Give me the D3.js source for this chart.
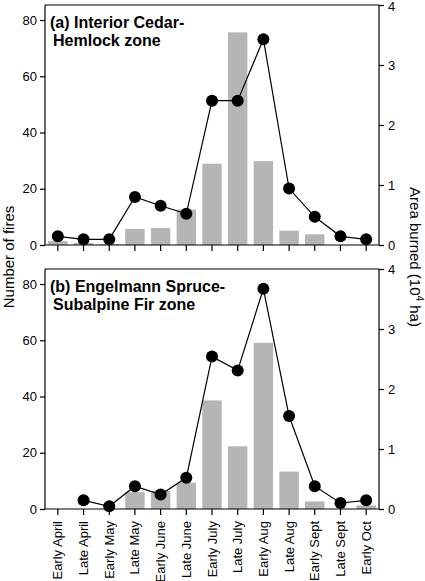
<!DOCTYPE html>
<html><head><meta charset="utf-8">
<script src="https://cdn.jsdelivr.net/npm/d3@7"></script>
<style>body{margin:0;background:#fff}svg{display:block;font-family:"Liberation Sans",Arial,sans-serif}</style>
</head><body><svg id="c" width="425" height="581"></svg>
<script>
const categories = ["Early April","Late April","Early May","Late May","Early June","Late June","Early July","Late July","Early Aug","Late Aug","Early Sept","Late Sept","Early Oct"];
const firesA = [1.4,0.7,0.3,5.7,6.0,12.6,28.9,75.6,29.8,5.1,3.8,0,0];
const areaA  = [0.145,0.095,0.095,0.8,0.655,0.52,2.405,2.405,3.43,0.94,0.47,0.145,0.095];
const firesB = [0,0,0,6.0,6.4,9.4,38.6,22.3,59.1,13.3,2.7,0,1.3];
const areaB  = [null,0.145,0.045,0.38,0.24,0.52,2.54,2.31,3.67,1.55,0.38,0.1,0.145];
const leftTicks = [0,20,40,60,80];
const rightTicks = [0,1,2,3,4];
const titlesA = ["(a) Interior Cedar-","Hemlock zone"];
const titlesB = ["(b) Engelmann Spruce-","Subalpine Fir zone"];

const svg = d3.select("#c");
const L = 45, R = 379;
const xc = d3.scaleBand().domain(categories).range([L,R]);

function panel(top, bottom, fires, area, titles, shiftTop){
  const yL = d3.scaleLinear().domain([0,85.333]).range([bottom,top]);
  const yR = d3.scaleLinear().domain([0,4]).range([bottom,top]);
  const g = svg.append("g");
  g.selectAll("rect.bar").data(fires.map((v,i)=>({v,c:categories[i]})).filter(d=>d.v>0))
    .join("rect").attr("x",d=>xc(d.c)+xc.bandwidth()/2-9.7).attr("width",19.4)
    .attr("y",d=>yL(d.v)).attr("height",d=>bottom-yL(d.v)).attr("fill","#b5b5b5");
  const pts = area.map((v,i)=>({v,c:categories[i]})).filter(d=>d.v!=null);
  g.append("path").datum(pts).attr("fill","none").attr("stroke","#000").attr("stroke-width",1.2)
    .attr("d",d3.line().x(d=>xc(d.c)+xc.bandwidth()/2).y(d=>yR(d.v)));
  g.selectAll("circle").data(pts).join("circle").attr("cx",d=>xc(d.c)+xc.bandwidth()/2)
    .attr("cy",d=>yR(d.v)).attr("r",6).attr("fill","#000");
  g.append("line").attr("x1",L).attr("x2",R).attr("y1",top).attr("y2",top).attr("stroke","#000").attr("stroke-width",1.2);
  const ax = g.append("g").attr("transform",`translate(${L},0)`).call(d3.axisLeft(yL).tickValues(leftTicks).tickSize(5).tickPadding(3));
  const ar = g.append("g").attr("transform",`translate(${R},0)`).call(d3.axisRight(yR).tickValues(rightTicks).tickFormat(d3.format("d")).tickSize(5).tickPadding(4));
  const ab = g.append("g").attr("transform",`translate(0,${bottom})`).call(d3.axisBottom(xc).tickSize(6).tickFormat(""));
  [ax,ar,ab].forEach(a=>{a.select(".domain").attr("stroke-width",1.2);a.selectAll("line").attr("stroke-width",1.2);a.selectAll("text").attr("font-size",13).attr("font-family","Liberation Sans, Arial, sans-serif").attr("fill","#000");});
  ab.select(".domain").attr("d",`M${L},0H${R}`);
  ax.select(".domain").attr("d",`M0,${bottom}V${top}`);
  ar.select(".domain").attr("d",`M0,${bottom}V${top}`);
  if (shiftTop) ar.selectAll(".tick text").filter(d=>d===4).attr("dy","0.42em");
  const t = g.append("text").attr("x",50).attr("y",top+23).attr("font-size",16).attr("font-weight","bold");
  titles.forEach((s,i)=>t.append("tspan").attr("x",i?53:50).attr("dy",i?18:0).text(s));
  return ab;
}
panel(5,245,firesA,areaA,titlesA,true);
const abB = panel(269,509,firesB,areaB,titlesB,false);
abB.selectAll(".tick").append("text").attr("transform","rotate(-90)").attr("x",-12).attr("y",4.5)
  .attr("text-anchor","end").attr("font-size",13).attr("fill","#000").text(d=>d);

svg.append("text").attr("transform","translate(14,257) rotate(-90)").attr("text-anchor","middle")
  .attr("font-size",15).text("Number of fires");
const rt = svg.append("text").attr("transform","translate(410,257) rotate(90)").attr("text-anchor","middle").attr("font-size",15);
rt.append("tspan").text("Area burned (10");
rt.append("tspan").attr("dy",-6).attr("font-size",10).text("4");
rt.append("tspan").attr("dy",6).text(" ha)");
</script></body></html>
